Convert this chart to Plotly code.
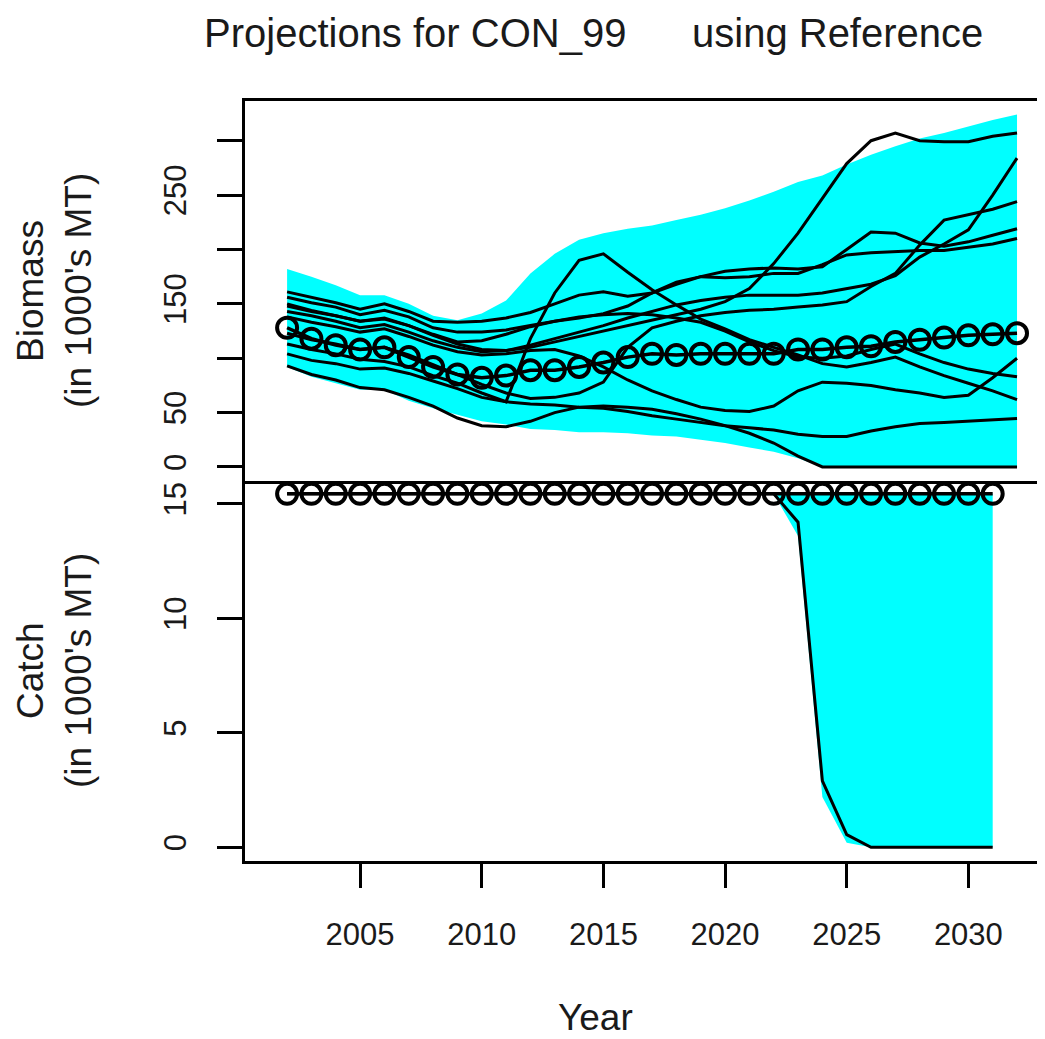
import plotly.graph_objects as go
from plotly.subplots import make_subplots

# projection years
years = [2002, 2003, 2004, 2005, 2006, 2007, 2008, 2009, 2010, 2011, 2012, 2013, 2014, 2015, 2016,
         2017, 2018, 2019, 2020, 2021, 2022, 2023, 2024, 2025, 2026, 2027, 2028, 2029, 2030, 2031, 2032]
catch_years = [2002, 2003, 2004, 2005, 2006, 2007, 2008, 2009, 2010, 2011, 2012, 2013, 2014, 2015, 2016,
               2017, 2018, 2019, 2020, 2021, 2022, 2023, 2024, 2025, 2026, 2027, 2028, 2029, 2030, 2031]

# biomass envelope (1000's MT)
bio_upper = [182, 175, 167, 158, 158, 150, 139, 135, 141, 153, 178, 196, 209, 215, 219, 222,
             227, 232, 238, 245, 253, 262, 268, 278, 287, 295, 302, 307, 313, 319, 324]
bio_lower = [92, 83, 77, 71, 71, 61, 54, 48, 42, 39, 35, 34, 32, 32, 31, 29,
             28, 25, 22, 18, 14, 8, 0, 0, 0, 0, 0, 0, 0, 0, 0]
bio_median = [128, 118, 112, 108, 110, 101, 92, 85, 82, 84, 89, 89, 92, 96, 101, 104,
              103, 104, 104, 104, 104, 108, 108, 110, 111, 115, 117, 119, 121, 122, 123]

# individual biomass runs
run_a = [150, 144, 139, 134, 137, 130, 121, 113, 108, 107, 110, 115, 120, 125, 130, 135,
         140, 145, 152, 164, 187, 215, 247, 279, 300, 307, 300, 299, 299, 304, 307]
run_b = [143, 139, 134, 128, 131, 124, 116, 110, 106, 107, 112, 118, 124, 130, 137, 143,
         149, 153, 156, 158, 158, 158, 160, 164, 168, 176, 193, 205, 218, 250, 284]
run_c = [123, 117, 113, 108, 110, 103, 94, 85, 76, 68, 63, 64, 68, 78, 110, 128,
         134, 139, 142, 144, 145, 147, 149, 152, 166, 178, 204, 227, 232, 237, 244]
run_d = [161, 156, 151, 145, 150, 143, 134, 133, 134, 137, 142, 150, 158, 161, 157, 160,
         168, 175, 180, 182, 183, 182, 184, 200, 216, 215, 206, 203, 207, 213, 219]
run_e = [156, 151, 147, 140, 144, 138, 128, 124, 124, 126, 130, 134, 137, 141, 148, 160,
         170, 175, 174, 175, 178, 178, 186, 195, 197, 198, 199, 199, 202, 205, 210]
run_f = [138, 133, 129, 124, 127, 120, 112, 106, 103, 104, 107, 108, 102, 92, 80, 70,
         62, 55, 52, 51, 56, 70, 78, 77, 75, 71, 68, 64, 66, 82, 100]
run_g = [148, 143, 139, 134, 136, 130, 122, 115, 116, 122, 129, 134, 138, 140, 141, 140,
         137, 133, 125, 115, 107, 101, 100, 102, 108, 113, 104, 96, 90, 86, 83]
run_h = [113, 108, 104, 99, 97, 92, 84, 77, 68, 60, 118, 160, 190, 196, 179, 163,
         149, 136, 127, 117, 110, 103, 95, 92, 96, 101, 92, 84, 77, 70, 62]
run_i = [104, 98, 95, 90, 91, 86, 79, 72, 64, 60, 58, 57, 55, 54, 51, 47,
         44, 41, 38, 36, 34, 30, 28, 28, 33, 37, 40, 41, 42, 43, 44.5]
run_j = [93, 85, 80, 73, 71, 64, 56, 45, 38, 37, 42, 50, 55, 56, 55, 53,
         49, 44, 38, 31, 22, 10, 0, 0, 0, 0, 0, 0, 0, 0, 0]
runs = [run_a, run_b, run_c, run_d, run_e, run_f, run_g, run_h, run_i, run_j]

# catch (1000's MT)
catch_median = [15.44, 15.44, 15.44, 15.44, 15.44, 15.44, 15.44, 15.44, 15.44, 15.44,
                15.44, 15.44, 15.44, 15.44, 15.44, 15.44, 15.44, 15.44, 15.44, 15.44,
                15.44, 15.44, 15.44, 15.44, 15.44, 15.44, 15.44, 15.44, 15.44, 15.44]
catch_lower = [15.44, 15.44, 15.44, 15.44, 15.44, 15.44, 15.44, 15.44, 15.44, 15.44,
               15.44, 15.44, 15.44, 15.44, 15.44, 15.44, 15.44, 15.44, 15.44, 15.44,
               15.44, 13.6, 2.2, 0.2, 0, 0, 0, 0, 0, 0]
catch_run = [15.44, 15.44, 15.44, 15.44, 15.44, 15.44, 15.44, 15.44, 15.44, 15.44,
             15.44, 15.44, 15.44, 15.44, 15.44, 15.44, 15.44, 15.44, 15.44, 15.44,
             15.44, 14.2, 2.9, 0.55, 0, 0, 0, 0, 0, 0]

x_ticks = [2005, 2010, 2015, 2020, 2025, 2030]
bio_ticks = [0, 50, 100, 150, 200, 250, 300]
bio_ticktext = ["0", "50", "", "150", "", "250", ""]
catch_ticks = [0, 5, 10, 15]

CYAN = "#00FFFF"
FONT = "Liberation Sans, Arial, sans-serif"
TXT = "#1a1a1a"

fig = make_subplots(rows=2, cols=1, shared_xaxes=True, vertical_spacing=0)

# top panel: biomass
fig.add_trace(go.Scatter(x=years + years[::-1], y=bio_upper + bio_lower[::-1],
                         fill="toself", fillcolor=CYAN, line=dict(width=0),
                         mode="lines", hoverinfo="skip"), row=1, col=1)
for r in runs:
    fig.add_trace(go.Scatter(x=years, y=r, mode="lines",
                             line=dict(color="black", width=3)), row=1, col=1)
fig.add_trace(go.Scatter(x=years, y=bio_median, mode="lines+markers",
                         line=dict(color="black", width=3.5),
                         marker=dict(symbol="circle-open", size=20, color="black",
                                     line=dict(width=4, color="black"))), row=1, col=1)

# bottom panel: catch
fig.add_trace(go.Scatter(x=catch_years + catch_years[::-1], y=catch_median + catch_lower[::-1],
                         fill="toself", fillcolor=CYAN, line=dict(width=0),
                         mode="lines", hoverinfo="skip"), row=2, col=1)
fig.add_trace(go.Scatter(x=catch_years, y=catch_run, mode="lines",
                         line=dict(color="black", width=3)), row=2, col=1)
fig.add_trace(go.Scatter(x=catch_years, y=catch_median, mode="lines+markers",
                         line=dict(color="black", width=3.5),
                         marker=dict(symbol="circle-open", size=20, color="black",
                                     line=dict(width=4, color="black"))), row=2, col=1)

fig.update_xaxes(range=[2000.27, 2033.15], showgrid=False, zeroline=False,
                 showline=True, linecolor="black", linewidth=3)
fig.update_xaxes(showticklabels=False, ticks="", mirror=True, row=1, col=1)
fig.update_xaxes(tickvals=x_ticks, ticks="outside", ticklen=24, tickwidth=3,
                 tickcolor="black", ticklabelstandoff=20, mirror=False,
                 tickfont=dict(family=FONT, size=31, color=TXT), row=2, col=1)

fig.update_yaxes(showgrid=False, zeroline=False, showline=True, linecolor="black",
                 linewidth=3, ticks="outside", ticklen=25, tickwidth=3, tickcolor="black",
                 tickangle=-90, ticklabelstandoff=19,
                 tickfont=dict(family=FONT, size=31, color=TXT))
fig.update_yaxes(range=[-12.9, 336.5], tickvals=bio_ticks, ticktext=bio_ticktext, row=1, col=1)
fig.update_yaxes(range=[-0.6, 16.0], tickvals=catch_ticks, row=2, col=1)

# page is drawn 8px in from the window corner, so work in window pixels minus 8
OFF = 8
L, W = 245 - OFF, 800


def px(xp):
    return (xp - OFF - L) / W


fig.update_layout(
    width=1045 - OFF, height=1039 - OFF,
    margin=dict(l=L, r=0, t=101 - OFF, b=178),
    plot_bgcolor="white", paper_bgcolor="white",
    showlegend=False,
    font=dict(family=FONT, color=TXT),
    annotations=[
        dict(text="Projections for CON_99", x=px(415), y=1.0, xref="paper", yref="paper",
             yshift=68, xanchor="center", yanchor="middle", showarrow=False,
             font=dict(size=40, family=FONT, color=TXT)),
        dict(text="using Reference", x=px(837), y=1.0, xref="paper", yref="paper",
             yshift=68, xanchor="center", yanchor="middle", showarrow=False,
             font=dict(size=40, family=FONT, color=TXT)),
        dict(text="Year", x=px(595), y=0, xref="paper", yref="paper",
             yshift=-156, xanchor="center", yanchor="middle", showarrow=False,
             font=dict(size=37, family=FONT, color=TXT)),
        dict(text="Biomass", x=px(30), y=0.75, xref="paper", yref="paper",
             textangle=-90, xanchor="center", yanchor="middle", showarrow=False,
             font=dict(size=37, family=FONT, color=TXT)),
        dict(text="(in 1000's MT)", x=px(78), y=0.75, xref="paper", yref="paper",
             textangle=-90, xanchor="center", yanchor="middle", showarrow=False,
             font=dict(size=37, family=FONT, color=TXT)),
        dict(text="Catch", x=px(30), y=0.25, xref="paper", yref="paper",
             textangle=-90, xanchor="center", yanchor="middle", showarrow=False,
             font=dict(size=37, family=FONT, color=TXT)),
        dict(text="(in 1000's MT)", x=px(78), y=0.25, xref="paper", yref="paper",
             textangle=-90, xanchor="center", yanchor="middle", showarrow=False,
             font=dict(size=37, family=FONT, color=TXT)),
    ],
)

fig.write_html("out.html")
